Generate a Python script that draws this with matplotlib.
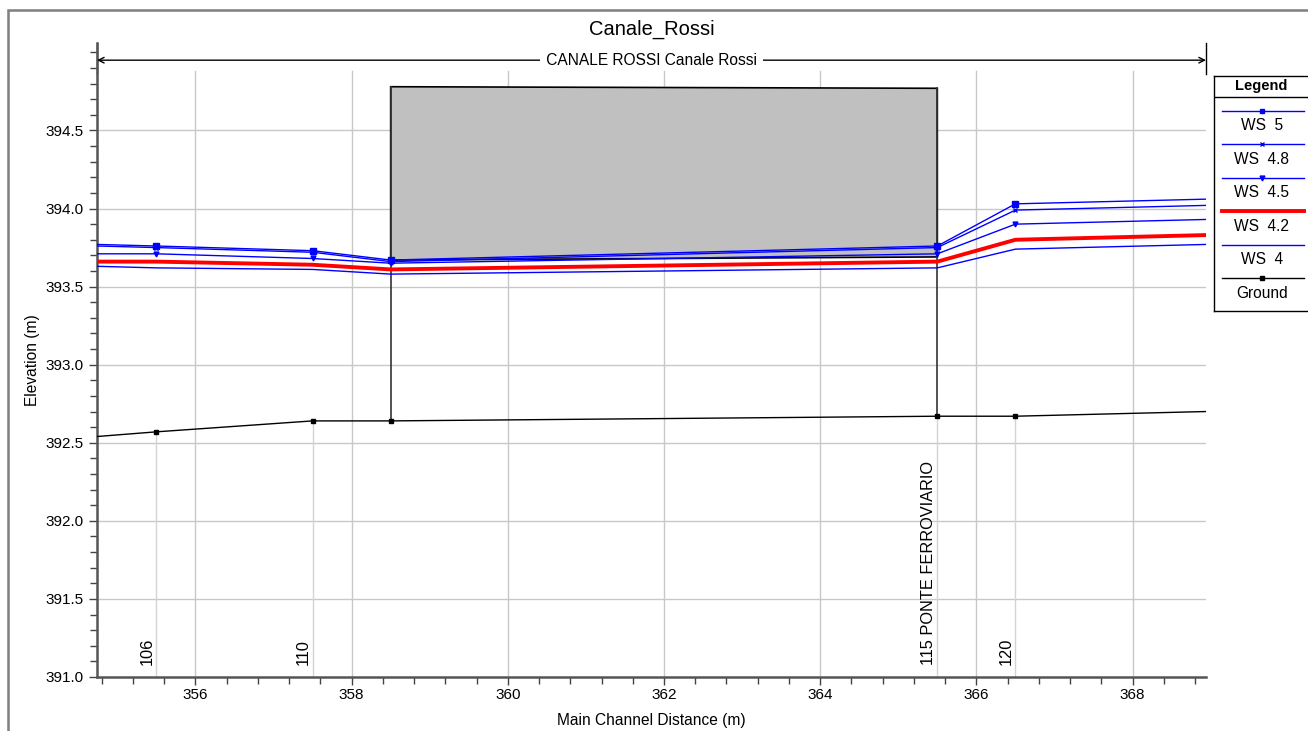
import numpy as np
import matplotlib.pyplot as plt
from matplotlib.lines import Line2D
from matplotlib.patches import Rectangle

plt.rcParams['font.family'] = ['Liberation Sans', 'DejaVu Sans']

# profile data (main channel distance, m)
dist = [354.74, 355.5, 357.5, 358.5, 365.5, 366.5, 368.94]
ws_5 = [393.77, 393.76, 393.73, 393.67, 393.76, 394.03, 394.06]
ws_48 = [393.76, 393.75, 393.72, 393.66, 393.75, 393.99, 394.02]
ws_45 = [393.71, 393.71, 393.68, 393.65, 393.71, 393.90, 393.93]
ws_42 = [393.66, 393.66, 393.64, 393.61, 393.66, 393.80, 393.83]
ws_4 = [393.63, 393.62, 393.61, 393.58, 393.62, 393.74, 393.77]
ground = [392.54, 392.57, 392.64, 392.64, 392.67, 392.67, 392.70]

# river stations
st_dist = [355.5, 357.5, 365.5, 366.5]
st_names = ["106", "110", "115 PONTE FERROVIARIO", "120"]
st_ground = [392.57, 392.64, 392.67, 392.67]

# bridge deck
bridge_x = [358.5, 365.5]
deck_top = [394.78, 394.77]
low_chord = [393.67, 393.69]
bridge_ground = [392.64, 392.67]

legend_names = ["WS  5", "WS  4.8", "WS  4.5", "WS  4.2", "WS  4", "Ground"]

fig = plt.figure(figsize=(13.08, 7.31), dpi=100)
W, H = 1308, 731
ax = fig.add_axes([97 / W, 1 - 677 / H, (1206 - 97) / W, (677 - 43) / H])
ax.set_xlim(dist[0], dist[-1])
ax.set_ylim(391.0, 395.06)

# outer frame (cut off on the right and bottom)
fig.patches.append(Rectangle((8 / W, -0.1), 1.2, 1.1 - 10 / H, transform=fig.transFigure,
                             fill=False, edgecolor='#7f7f7f', lw=1.8))

# grid
grid_top = 394.88
for xv in np.arange(356, 369, 2):
    ax.plot([xv, xv], [391.0, grid_top], color='#c8c8c8', lw=1.0, zorder=0)
for yv in np.arange(391.5, 394.6, 0.5):
    ax.axhline(yv, color='#c8c8c8', lw=1.0, zorder=0)
for sx, sg in zip(st_dist, st_ground):
    ax.plot([sx, sx], [391.0, sg], color='#d4d4d4', lw=1.0, zorder=0)

# bridge
poly_x = [bridge_x[0], bridge_x[1], bridge_x[1], bridge_x[0]]
poly_y = [deck_top[0], deck_top[1], low_chord[1], low_chord[0]]
ax.fill(poly_x, poly_y, facecolor='#c0c0c0', edgecolor='black', lw=1.2, zorder=1)
for bx, bt, bg in zip(bridge_x, deck_top, bridge_ground):
    ax.plot([bx, bx], [bt, bg], color='#333333', lw=1.2, zorder=1)

mk = [1, 2, 3, 4, 5]
ax.plot(dist, ws_4, color='blue', lw=1.0, zorder=3)
ax.plot(dist, ws_42, color='red', lw=2.8, zorder=3)
ax.plot(dist, ws_45, color='blue', lw=1.0, marker='v', ms=3.5, markevery=mk, zorder=3)
ax.plot(dist, ws_48, color='blue', lw=1.0, marker='x', ms=3, mew=1, markevery=mk, zorder=3)
ax.plot(dist, ws_5, color='blue', lw=1.0, marker='s', ms=4, markevery=mk, zorder=3)
ax.plot(dist, ground, color='black', lw=1.0, marker='s', ms=3.5, markevery=mk, zorder=3)

# station labels
for sx, name in zip(st_dist, st_names):
    ax.text(sx - 0.02, 391.08, name, rotation=90, ha='right', va='bottom', fontsize=11.8)

# reach arrow
arrow_y = 394.95
ax.annotate('', xy=(dist[0], arrow_y), xytext=(dist[-1], arrow_y),
            arrowprops=dict(arrowstyle='<->', color='black', lw=1.0,
                            shrinkA=0, shrinkB=0), annotation_clip=False)
for ex in [dist[0], dist[-1]]:
    ax.plot([ex, ex], [394.86, 395.06], color='black', lw=1.0, clip_on=False)
ax.text(np.mean([dist[0], dist[-1]]), arrow_y, ' CANALE ROSSI Canale Rossi ',
        ha='center', va='center', fontsize=11.2,
        bbox=dict(facecolor='white', edgecolor='none', pad=1))

ax.set_title('Canale_Rossi', fontsize=14.5, pad=6)
ax.set_xlabel('Main Channel Distance (m)', fontsize=11.2, labelpad=8)
ax.set_ylabel('Elevation (m)', fontsize=11.2, labelpad=4)

ax.set_xticks(np.arange(356, 369, 2))
ax.set_xticks(np.arange(354.8, 369, 0.4), minor=True)
ax.set_yticks(np.arange(391.0, 394.6, 0.5))
ax.set_yticks(np.arange(391.0, 395.05, 0.1), minor=True)
ax.yaxis.set_major_formatter(plt.FormatStrFormatter('%.1f'))
ax.tick_params(which='both', direction='out', color='#444444', labelsize=11)
ax.tick_params(which='major', length=6, width=1)
ax.tick_params(which='minor', length=5, width=1)
ax.tick_params(axis='x', pad=2)
for s in ['top', 'right']:
    ax.spines[s].set_visible(False)
for s in ['left', 'bottom']:
    ax.spines[s].set_color('#555555')
    ax.spines[s].set_linewidth(1.8)

# legend box
lx0, lx1, ly0, ly1 = 1214, 1314, 76, 311
lax = fig.add_axes([lx0 / W, 1 - ly1 / H, (lx1 - lx0) / W, (ly1 - ly0) / H])
lax.set_xlim(lx0, lx1)
lax.set_ylim(ly1, ly0)
lax.set_xticks([])
lax.set_yticks([])
for s in lax.spines.values():
    s.set_color('black')
    s.set_linewidth(1.0)
lax.text(1261, 86, 'Legend', ha='center', va='center', fontsize=10.5, fontweight='bold')
lax.plot([lx0, lx1], [97, 97], color='black', lw=1.0)
line_y = [110.5, 144, 177.5, 211, 244.5, 278]
styles = [dict(color='blue', lw=1.0, marker='s', ms=3.5),
          dict(color='blue', lw=1.0, marker='x', ms=3, mew=1),
          dict(color='blue', lw=1.0, marker='v', ms=3.5),
          dict(color='red', lw=2.8),
          dict(color='blue', lw=1.0),
          dict(color='black', lw=1.0, marker='s', ms=3.5)]
for ly, name, st in zip(line_y, legend_names, styles):
    lax.add_line(Line2D([1222, 1304], [ly, ly], markevery=[], **st))
    lax.plot([1262], [ly], linestyle='none', **{k: v for k, v in st.items() if k != 'lw'})
    lax.text(1262, ly + 15, name, ha='center', va='center', fontsize=11.2)

fig.savefig('out.png', dpi=100)
